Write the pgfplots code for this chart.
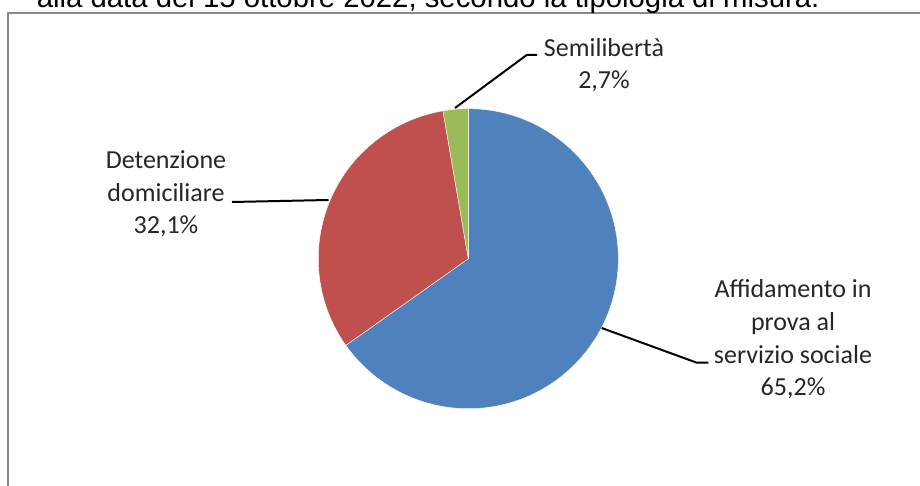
\documentclass[border=0pt]{standalone}
\usepackage{fontspec}
\setmainfont{Carlito}
\newfontfamily\arialf{Liberation Sans}
\usepackage{pgfplots}
\usepackage{pgfplotstable}
\pgfplotsset{compat=1.18}

\definecolor{pieblue}{HTML}{4F81BD}
\definecolor{piered}{HTML}{C0504D}
\definecolor{piegreen}{HTML}{9BBB59}
\definecolor{framegray}{HTML}{898989}

% share of each measure (%)
\pgfplotstableread{
slice value
1 65.2
2 32.1
3 2.7
}\piedata

\begin{document}
\begin{tikzpicture}
\pgfplotstablegetelem{0}{value}\of\piedata\let\vA\pgfplotsretval
\pgfplotstablegetelem{1}{value}\of\piedata\let\vB\pgfplotsretval
\pgfplotstablegetelem{2}{value}\of\piedata\let\vC\pgfplotsretval
\pgfmathsetmacro\aA{90-3.6*\vA}
\pgfmathsetmacro\aB{\aA-3.6*\vB}
\pgfmathsetmacro\aC{\aB-3.6*\vC}
\path[use as bounding box, clip] (0,0) rectangle (690pt,363.75pt);
\begin{axis}[
    at={(0,0)}, anchor=south west,
    x=0.75pt, y=0.75pt,
    xmin=0, xmax=920, ymin=0, ymax=485,
    hide axis, clip=false,
]
% frame, cut off on the right and at the bottom
\draw[framegray, line width=1.5pt] (axis cs:8,-10) -- (axis cs:8,472) -- (axis cs:940,472);
% title, mostly cut off
\node[anchor=base west, inner sep=0pt] at (axis cs:36.5,477.7)
    {\resizebox{587pt}{!}{\arialf alla data del 15 ottobre 2022, secondo la tipologia di misura.}};
% slices
\fill[pieblue, draw=white, line width=0.3pt] (axis cs:468.3,226.3) -- ++(90:112.5pt)
    arc[start angle=90, end angle=\aA, radius=112.5pt] -- cycle;
\fill[piered, draw=white, line width=0.3pt] (axis cs:468.3,226.3) -- ++(\aA:112.5pt)
    arc[start angle=\aA, end angle=\aB, radius=112.5pt] -- cycle;
\fill[piegreen, draw=white, line width=0.3pt] (axis cs:468.3,226.3) -- ++(\aB:112.5pt)
    arc[start angle=\aB, end angle=\aC, radius=112.5pt] -- cycle;
% leader lines
\draw[black, line width=1.5pt] (axis cs:455,377) -- (axis cs:526.7,430) -- (axis cs:537,430);
\draw[black, line width=1.5pt] (axis cs:232,283) -- (axis cs:328.5,285);
\draw[black, line width=1.5pt] (axis cs:601.7,157) -- (axis cs:696.7,122.3) -- (axis cs:708.3,122.3);
% labels
\tikzset{lbl/.style={align=center, inner sep=0pt, text=black!85,
    font=\fontsize{19.5pt}{24.4pt}\selectfont}}
\node[lbl] at (axis cs:604,420) {Semilibertà\\2,7\%};
\node[lbl] at (axis cs:166,291) {Detenzione\\domiciliare\\32,1\%};
\node[lbl] at (axis cs:793,145.6) {Affidamento in\\prova al\\servizio sociale\\65,2\%};
\end{axis}
\end{tikzpicture}
\end{document}
